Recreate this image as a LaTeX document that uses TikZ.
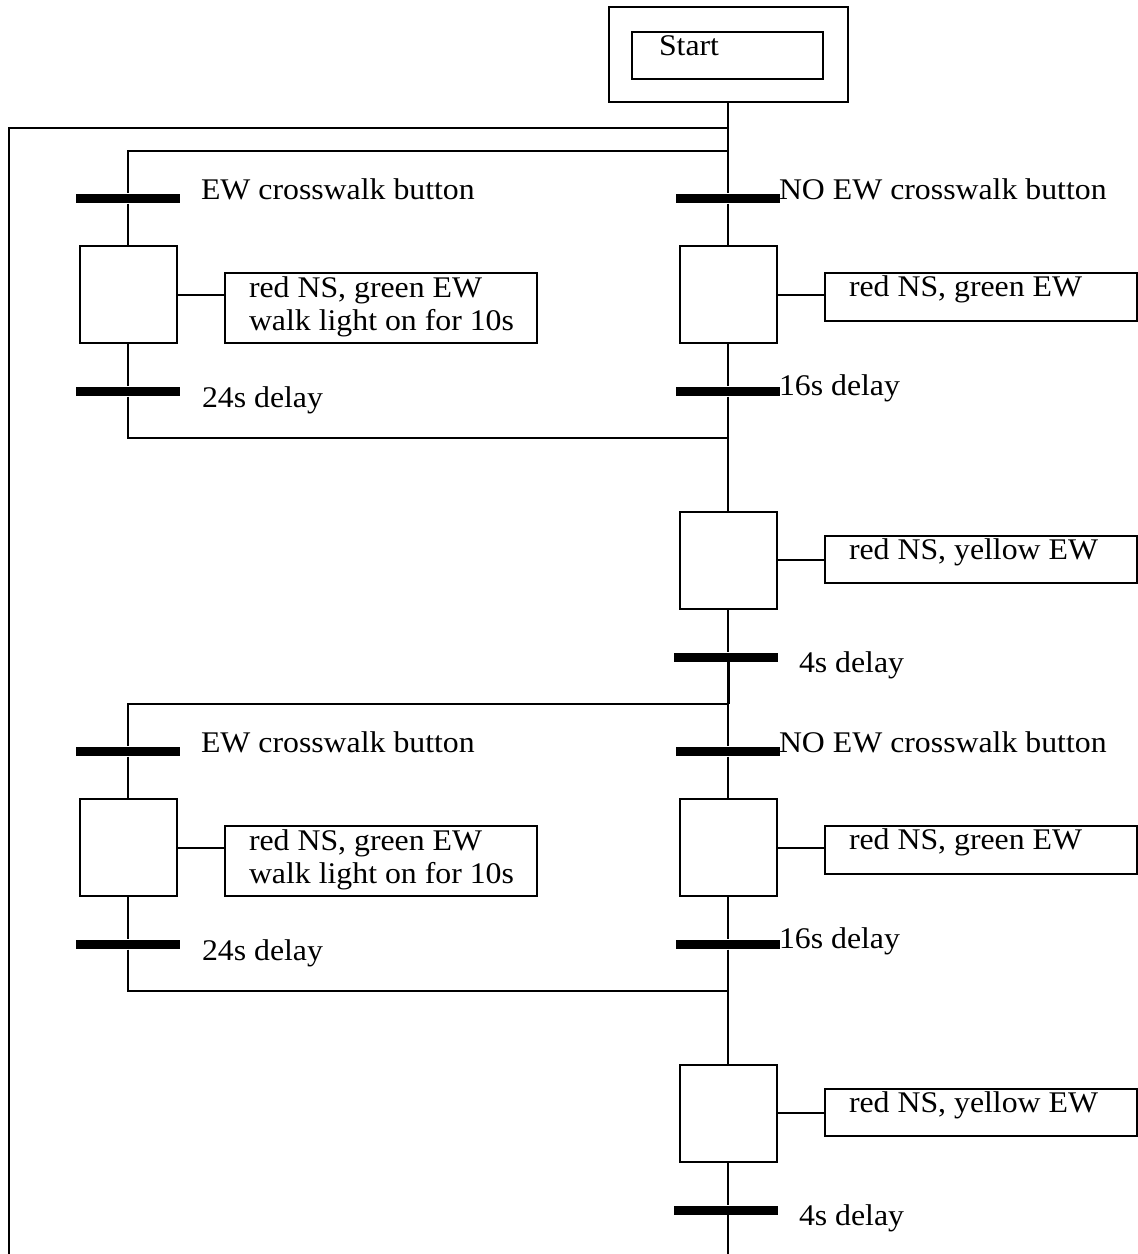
\documentclass[tikz,border=0pt]{standalone}
\usepackage{fontspec}
\setmainfont{Liberation Serif}[FakeStretch=1.06]
\begin{document}
\begin{tikzpicture}[x=1pt,y=-1pt,line width=2pt,
  every node/.style={font=\fontsize{30}{34}\selectfont,inner sep=0pt},
  stepbox/.style={draw,minimum width=97pt,minimum height=97pt},
  actbox/.style={draw,anchor=north west,minimum width=312pt},
  tbar/.style={fill=black,minimum width=104pt,minimum height=9pt},
  lbl/.style={anchor=base west}]
\useasboundingbox (0,0) rectangle (1138,1254);
% start step
\node[draw,minimum width=239pt,minimum height=95pt] (startout) at (728.5,54.5) {};
\node[draw,minimum width=191pt,minimum height=47pt] (startin) at (727.5,55.5) {};
\node[lbl] (starttxt) at (658,55) {Start};
% loop back line
\coordinate (loopT) at (728,128);
\coordinate (loopL) at (9,128);
\coordinate (loopB) at (9,1254);
\draw (loopT) -- (loopL) -- (loopB);
\coordinate (endpt) at (728,1254);
\foreach \o/\i in {0/1,553/2}{
  \coordinate (jt\i) at (728,151+\o);
  \coordinate (lt\i) at (128,151+\o);
  \coordinate (lb\i) at (128,438+\o);
  \coordinate (jb\i) at (728,438+\o);
  % transitions
  \node[tbar] (tA\i) at (128,198+\o) {};
  \node[tbar] (tB\i) at (728,198+\o) {};
  \node[lbl] (tAl\i) at (200,199+\o) {EW crosswalk button};
  \node[lbl] (tBl\i) at (778,199+\o) {NO EW crosswalk button};
  % steps
  \node[stepbox] (sA\i) at (128,294.5+\o) {};
  \node[stepbox] (sB\i) at (728,294.5+\o) {};
  \node[actbox,minimum height=70pt] (aA\i) at (224,272+\o) {};
  \node[actbox,minimum height=48pt] (aB\i) at (824,272+\o) {};
  \node[lbl] (aAt\i) at (248,297+\o) {red NS, green EW};
  \node[lbl] (aAu\i) at (248,330+\o) {walk light on for 10s};
  \node[lbl] (aBt\i) at (848,296+\o) {red NS, green EW};
  \draw (sA\i.east) -- (sA\i.east -| aA\i.west);
  \draw (sB\i.east) -- (sB\i.east -| aB\i.west);
  % delays
  \node[tbar] (bA\i) at (128,391+\o) {};
  \node[tbar] (bB\i) at (728,391+\o) {};
  \node[lbl] (bAl\i) at (201,407+\o) {24s delay};
  \node[lbl] (bBl\i) at (778,395+\o) {16s delay};
  % yellow step
  \node[stepbox] (sC\i) at (728,560+\o) {};
  \node[actbox,minimum height=47pt] (aC\i) at (824,535+\o) {};
  \node[lbl] (aCt\i) at (848,559+\o) {red NS, yellow EW};
  \draw (sC\i.east) -- (sC\i.east -| aC\i.west);
  \node[tbar] (d\i) at (726,657+\o) {};
  \node[lbl] (dl\i) at (798,672+\o) {4s delay};
  % connections
  \draw (jt\i) -- (lt\i) -- (tA\i) -- (sA\i) -- (bA\i) -- (lb\i) -- (jb\i);
  \draw (tB\i) -- (sB\i) -- (bB\i) -- (sC\i) -- (sC\i |- d\i.north);
}
\draw (tB1 |- startout.south) -- (tB1);
\draw[line width=3pt] (d1.center -| jt2) -- (jt2);
\draw (jt2) -- (tB2);
\draw (d2.center -| endpt) -- (endpt);
\end{tikzpicture}
\end{document}
